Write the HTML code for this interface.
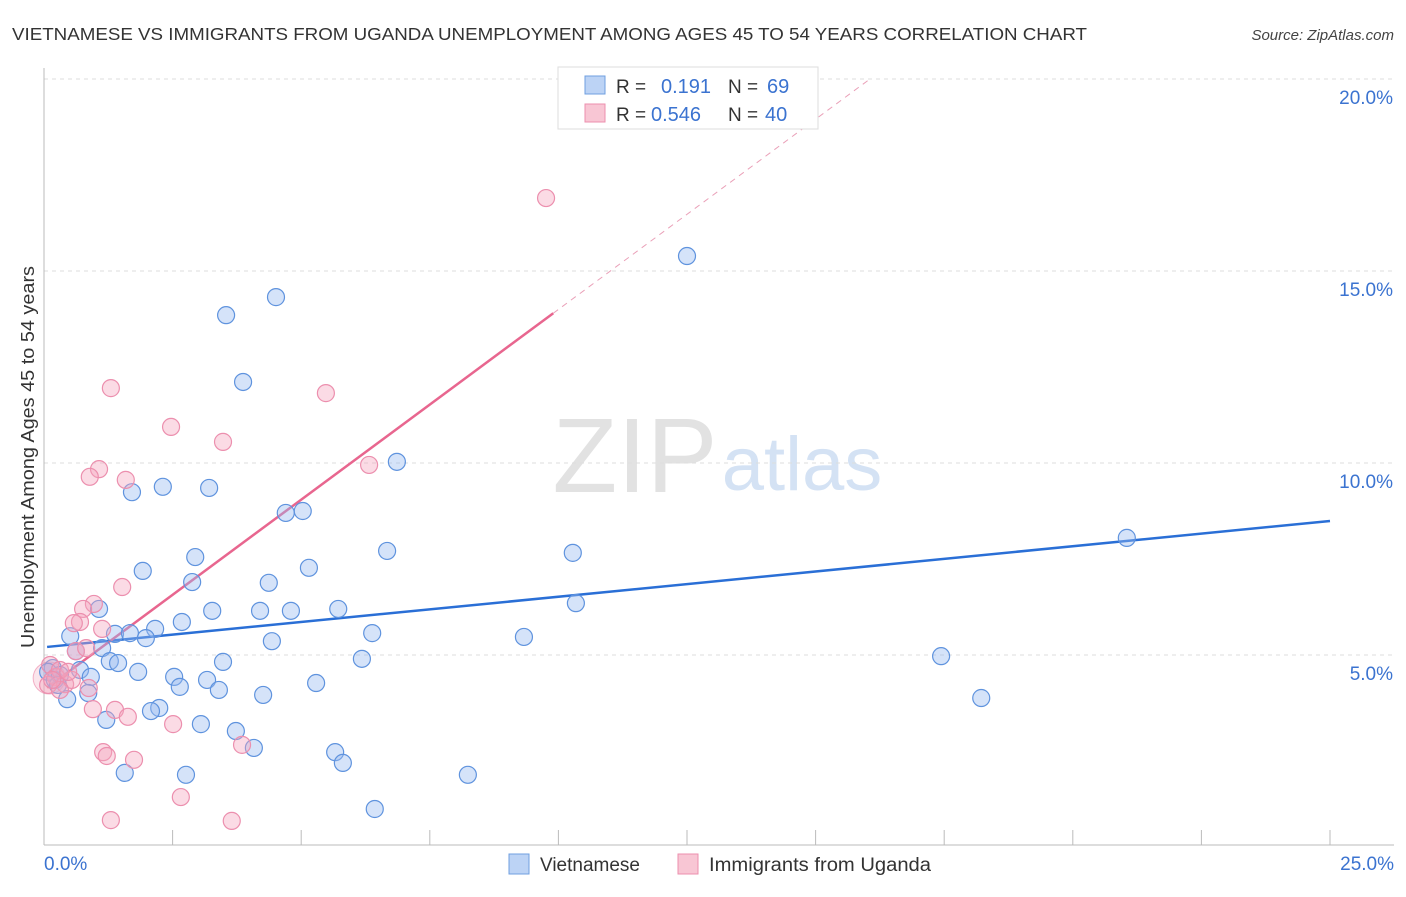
<!DOCTYPE html>
<html><head><meta charset="utf-8"><style>
body{margin:0;background:#fff;font-family:"Liberation Sans",sans-serif;}
svg text{font-family:"Liberation Sans",sans-serif;}
</style></head><body>
<svg id="chart" width="1406" height="892" xmlns="http://www.w3.org/2000/svg">
<text x="12" y="40" font-size="17.5" fill="#333" textLength="1075" lengthAdjust="spacingAndGlyphs">VIETNAMESE VS IMMIGRANTS FROM UGANDA UNEMPLOYMENT AMONG AGES 45 TO 54 YEARS CORRELATION CHART</text>
<text x="1394" y="40" font-size="15" fill="#444" font-style="italic" text-anchor="end">Source: ZipAtlas.com</text>
<g>
<text x="635" y="492" font-size="106" fill="#e2e2e2" text-anchor="middle" font-family="Liberation Serif,serif">ZIP</text>
<text x="802" y="490" font-size="76" fill="#d4e2f4" text-anchor="middle">atlas</text></g>
<g id="grid"></g><g id="axes"></g><g id="lines"></g><g id="points"></g>
<text transform="translate(34,457) rotate(-90)" font-size="18.5" fill="#333" text-anchor="middle" textLength="382" lengthAdjust="spacingAndGlyphs">Unemployment Among Ages 45 to 54 years</text>
<g>
<rect x="558" y="67" width="260" height="62" fill="#fff" stroke="#ddd"/>
<rect x="585" y="76" width="20" height="18" fill="#bcd3f5" stroke="#6f9fe0"/>
<rect x="585" y="104" width="20" height="18" fill="#f8c6d4" stroke="#ec8fae"/>
<text x="616" y="93" font-size="19" fill="#333">R =</text><text x="661" y="93" font-size="20" fill="#3b73d0">0.191</text>
<text x="728" y="93" font-size="19" fill="#333">N =</text><text x="767" y="93" font-size="20" fill="#3b73d0">69</text>
<text x="616" y="121" font-size="19" fill="#333">R =</text><text x="651" y="121" font-size="20" fill="#3b73d0">0.546</text>
<text x="728" y="121" font-size="19" fill="#333">N =</text><text x="765" y="121" font-size="20" fill="#3b73d0">40</text>
</g>
<g>
<rect x="509" y="854" width="20" height="20" fill="#bcd3f5" stroke="#6f9fe0"/>
<text x="540" y="871" font-size="19" fill="#333">Vietnamese</text>
<rect x="678" y="854" width="20" height="20" fill="#f8c6d4" stroke="#ec8fae"/>
<text x="709" y="871" font-size="19" fill="#333" textLength="222" lengthAdjust="spacingAndGlyphs">Immigrants from Uganda</text>
</g>
</svg>
<script>
const xTickLabels=["0.0%","25.0%"];
const yTicks=[5,10,15,20];
const yTickLabels=["5.0%","10.0%","15.0%","20.0%"];
const blueX=[3.54,4.51,3.87,12.50,6.86,1.71,2.31,3.21,4.70,5.03,6.67,10.28,2.94,1.92,5.15,2.88,4.37,1.07,3.27,4.20,4.80,5.72,10.34,2.68,2.16,0.51,1.38,1.67,1.98,4.43,6.38,9.33,1.13,0.62,1.28,1.44,3.48,6.18,17.44,0.17,0.70,1.83,2.53,0.91,2.64,3.17,5.29,3.40,4.26,0.86,0.45,18.22,2.24,2.08,1.21,3.05,3.73,4.08,5.66,5.81,1.57,2.76,8.24,6.43,21.05,0.08,0.21,0.31,0.27];
const blueY=[13.85,14.32,12.11,15.39,10.03,9.24,9.38,9.35,8.70,8.75,7.71,7.66,7.55,7.19,7.27,6.90,6.88,6.20,6.15,6.15,6.15,6.20,6.35,5.86,5.68,5.49,5.55,5.57,5.44,5.36,5.57,5.47,5.18,5.10,4.84,4.79,4.82,4.90,4.97,4.66,4.61,4.56,4.43,4.43,4.17,4.35,4.27,4.09,3.96,4.01,3.85,3.88,3.62,3.54,3.31,3.20,3.02,2.58,2.47,2.19,1.93,1.88,1.88,0.99,8.05,4.56,4.35,4.48,4.22];
const pinkX=[9.76,1.30,5.48,2.47,3.48,6.32,1.07,0.89,1.59,1.52,0.97,0.76,0.70,0.58,1.13,0.62,0.82,0.12,0.23,0.41,0.54,0.08,0.31,0.87,0.95,1.38,1.63,2.51,3.85,1.15,1.22,1.75,2.66,1.30,3.65,0.31,0.16,0.47];
const pinkY=[16.90,11.95,11.82,10.94,10.55,9.95,9.84,9.64,9.56,6.77,6.33,6.20,5.86,5.83,5.68,5.10,5.18,4.74,4.43,4.24,4.35,4.22,4.09,4.14,3.59,3.57,3.39,3.20,2.66,2.47,2.37,2.27,1.30,0.70,0.68,4.61,4.35,4.56];
const blueTrend=[0.06,5.21,25,8.49];
const pinkTrend=[0.06,4.15,9.9,13.9,16.06];
const NS="http://www.w3.org/2000/svg";
const sx=v=>44+v*51.44, sy=v=>847-v*38.4;
function mk(t,a,p){const e=document.createElementNS(NS,t);for(const k in a)e.setAttribute(k,a[k]);document.getElementById(p).appendChild(e);return e;}
yTicks.forEach((t,i)=>{
 const g=mk('line',{x1:44,x2:1394,y1:sy(t),y2:sy(t),stroke:'#ddd','stroke-dasharray':'4,4'},'grid');
 
 
 const l=mk('text',{x:1393,y:sy(t)+25,'font-size':19,fill:'#3b73d0','text-anchor':'end'},'axes');
 l.textContent=yTickLabels[i];
 
 
});
const ax=mk('line',{x1:44,x2:44,y1:68,y2:845,stroke:'#bbb'},'axes');


const bx=mk('line',{x1:44,x2:1394,y1:845,y2:845,stroke:'#bbb'},'axes');


for(let i=1;i<=10;i++){const t=mk('line',{x1:sx(i*2.5),x2:sx(i*2.5),y1:830,y2:845,stroke:'#bbb'},'axes');
 
 }
[[0,'start',44],[25,'end',1394]].forEach((d,i)=>{const l=mk('text',{x:d[2],y:870,'font-size':19,fill:'#3b73d0','text-anchor':d[1]},'axes');l.textContent=xTickLabels[i];
 
 });
const bl=mk('line',{x1:sx(blueTrend[0]),y1:sy(blueTrend[1]),x2:sx(blueTrend[2]),y2:sy(blueTrend[3]),stroke:'#2a6fd6','stroke-width':2.5},'lines');


const slope=(pinkTrend[3]-pinkTrend[1])/(pinkTrend[2]-pinkTrend[0]);
const pl=mk('line',{x1:sx(pinkTrend[0]),y1:sy(pinkTrend[1]),x2:sx(pinkTrend[2]),y2:sy(pinkTrend[3]),stroke:'#e8668f','stroke-width':2.5},'lines');


const pd=mk('line',{x1:sx(pinkTrend[2]),y1:sy(pinkTrend[3]),x2:sx(pinkTrend[4]),y2:sy(pinkTrend[1]+slope*(pinkTrend[4]-pinkTrend[0])),stroke:'#eaa0b8','stroke-width':1,'stroke-dasharray':'6,5'},'lines');


const big=mk('circle',{cx:sx(0.1),cy:sy(4.4),r:16,fill:'rgba(240,150,180,0.25)',stroke:'rgba(232,110,150,0.5)'},'points');


blueX.forEach((x,i)=>{const c=mk('circle',{cx:sx(x),cy:sy(blueY[i]),r:8.5,fill:'rgba(150,185,240,0.4)',stroke:'#5f93de','stroke-width':1.2},'points');
 
 });
pinkX.forEach((x,i)=>{const c=mk('circle',{cx:sx(x),cy:sy(pinkY[i]),r:8.5,fill:'rgba(245,165,190,0.4)',stroke:'#ec8fae','stroke-width':1.2},'points');
 
 });
</script>
</body></html>
